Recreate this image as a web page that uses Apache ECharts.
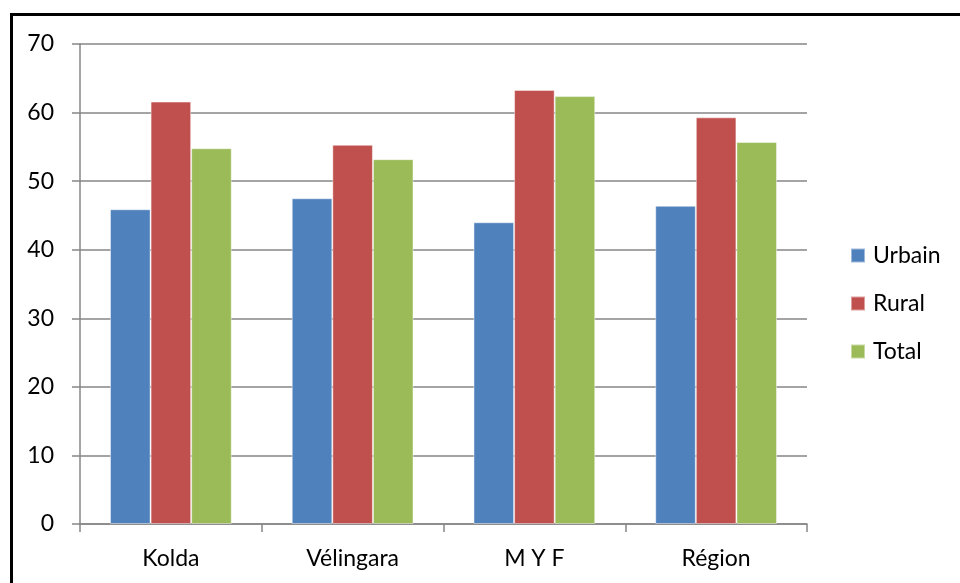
<!DOCTYPE html>
<html>
<head>
<meta charset="utf-8">
<script src="https://cdn.jsdelivr.net/npm/echarts@6/dist/echarts.min.js"></script>
<style>
html,body{margin:0;padding:0;background:#fff;}
#c{width:960px;height:583px;}
</style>
</head>
<body>
<div id="c"></div>
<script>
const categories = ['Kolda', 'Vélingara', 'M Y F', 'Région'];
const urbain = [45.9, 47.5, 44.0, 46.4];
const rural = [61.6, 55.3, 63.3, 59.3];
const total = [54.8, 53.2, 62.4, 55.7];
const seriesNames = ['Urbain', 'Rural', 'Total'];
const colors = ['#4F81BD', '#C0504D', '#9BBB59'];

const chart = echarts.init(document.getElementById('c'));
const font = 'Lato, "Open Sans", sans-serif';
const mk = (name, data, color) => ({
  name, type: 'bar', data,
  barGap: '0%', barCategoryGap: '33%',
  itemStyle: { color, borderColor: 'rgba(255,255,255,0.45)', borderWidth: 1 }
});
chart.setOption({
  animation: false,
  textStyle: { fontFamily: font },
  graphic: [{
    type: 'rect', shape: { x: 11.5, y: 14.5, width: 1200, height: 1200 },
    style: { fill: 'none', stroke: '#000', lineWidth: 3 }, silent: true
  }],
  grid: { left: 80, right: 153, top: 44, bottom: 59 },
  legend: {
    orient: 'vertical', left: 845, top: 239,
    itemWidth: 14, itemHeight: 14, itemGap: 25,
    icon: 'rect',
    textStyle: { fontSize: 23, lineHeight: 20, color: '#000', fontFamily: font, padding: [0, 0, 0, 3] },
    data: seriesNames
  },
  xAxis: {
    type: 'category', data: categories,
    axisLine: { lineStyle: { color: '#868686', width: 1.5 } },
    axisTick: { show: true, length: 8, lineStyle: { color: '#868686', width: 1.5 } },
    axisLabel: { fontSize: 23, color: '#000', margin: 23, fontFamily: font }
  },
  yAxis: {
    type: 'value', min: 0, max: 70, interval: 10,
    axisLine: { show: true, lineStyle: { color: '#868686', width: 1.5 } },
    axisTick: { show: true, length: 8, lineStyle: { color: '#868686', width: 1.5 } },
    splitLine: { lineStyle: { color: '#868686', width: 1.5 } },
    axisLabel: { fontSize: 23, color: '#000', margin: 26, fontFamily: font }
  },
  series: [
    mk(seriesNames[0], urbain, colors[0]),
    mk(seriesNames[1], rural, colors[1]),
    mk(seriesNames[2], total, colors[2])
  ]
});
</script>
</body>
</html>
